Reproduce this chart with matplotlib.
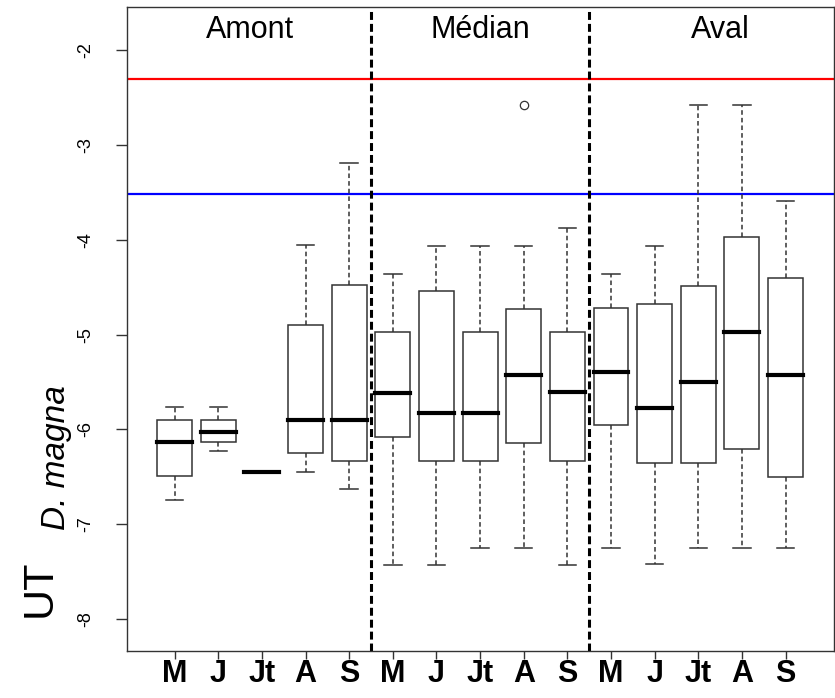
import numpy as np
import matplotlib.pyplot as plt

# month labels for the three sites (Amont / Médian / Aval)
months = ["M", "J", "Jt", "A", "S"] * 3
sites = ["Amont", "Médian", "Aval"]

# box statistics (log scale values)
whislo = [-6.75, -6.23, -6.45, -6.45, -6.63,
          -7.43, -7.43, -7.25, -7.25, -7.43,
          -7.25, -7.42, -7.25, -7.25, -7.25]
q1 = [-6.49, -6.13, -6.45, -6.25, -6.33,
      -6.08, -6.33, -6.33, -6.14, -6.33,
      -5.95, -6.36, -6.36, -6.21, -6.50]
med = [-6.13, -6.03, -6.45, -5.90, -5.90,
       -5.62, -5.83, -5.83, -5.43, -5.61,
       -5.40, -5.78, -5.50, -4.97, -5.43]
q3 = [-5.90, -5.90, -6.45, -4.90, -4.48,
      -4.97, -4.54, -4.97, -4.73, -4.97,
      -4.72, -4.68, -4.49, -3.97, -4.40]
whishi = [-5.76, -5.76, -6.45, -4.05, -3.19,
          -4.36, -4.06, -4.06, -4.06, -3.88,
          -4.36, -4.06, -2.58, -2.58, -3.59]
outliers = {9: [-2.58]}

red_level = -2.3
blue_level = -3.52

plt.rcParams["font.family"] = ["Liberation Sans", "DejaVu Sans"]

fig = plt.figure(figsize=(8.35, 6.98), dpi=100)
ax = fig.add_axes([0.1517, 0.0673, 0.8466, 0.9222])

stats = []
for i in range(len(months)):
    stats.append({"whislo": whislo[i], "q1": q1[i], "med": med[i],
                  "q3": q3[i], "whishi": whishi[i],
                  "fliers": outliers.get(i + 1, [])})

pos = np.arange(1, len(months) + 1)
ax.bxp(stats, positions=pos, widths=0.8, capwidths=0.4, patch_artist=True,
       boxprops=dict(facecolor="white", edgecolor="#333333", linewidth=1.1),
       whiskerprops=dict(color="#333333", linewidth=1.1, linestyle=(0, (3, 2))),
       capprops=dict(color="#333333", linewidth=1.1),
       medianprops=dict(color="black", linewidth=3, solid_capstyle="projecting"),
       flierprops=dict(marker="o", markersize=6, markerfacecolor="none",
                       markeredgecolor="#333333", markeredgewidth=0.9))

ax.axhline(red_level, color="red", lw=1.6, zorder=0)
ax.axhline(blue_level, color="blue", lw=1.6, zorder=0)
for xv in [5.5, 10.5]:
    ax.axvline(xv, color="black", lw=2.2, linestyle=(0, (2.6, 1.3)))

for k, name in enumerate(sites):
    xc = [2.72, 8.0, 13.5][k]
    ax.text(xc, -1.786, name, ha="center", va="center", fontsize=22)

ax.set_xlim(-0.1, 16.1)
ax.set_ylim(-8.34, -1.546)
ax.set_xticks(pos)
ax.set_xticklabels(months, fontsize=22, fontweight="bold")
ax.set_yticks([-8, -7, -6, -5, -4, -3, -2])
ax.set_yticklabels(["-8", "-7", "-6", "-5", "-4", "-3", "-2"], rotation=90,
                   va="center", fontsize=13)
ax.tick_params(axis="both", direction="out", length=8, width=1, color="#333333")
ax.tick_params(axis="y", pad=15)
ax.tick_params(axis="x", length=6, pad=0)
for s in ax.spines.values():
    s.set_color("#333333")
    s.set_linewidth(1)

fig.text(40 / 835, 1 - 588 / 698, "UT", rotation=90, ha="center", va="center",
         fontsize=31)
fig.text(57 / 835, 1 - 458 / 698, "D. magna", rotation=90, ha="center",
         va="center", fontsize=24, style="italic")

fig.savefig("out.png", dpi=100)
